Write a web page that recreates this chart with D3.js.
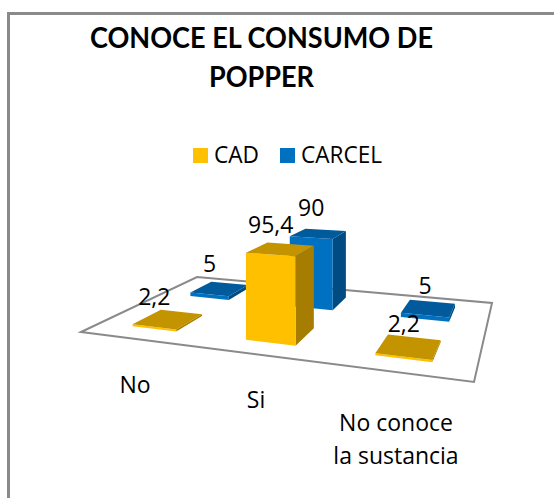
<!DOCTYPE html>
<html><head><meta charset="utf-8">
<script src="https://cdn.jsdelivr.net/npm/d3@7"></script>
<style>html,body{margin:0;padding:0;background:#fff}svg{display:block}text{font-family:"Open Sans",sans-serif;fill:#000}.t{font-family:Lato,sans-serif}</style>
</head><body><svg id="c" width="554" height="498"></svg>
<script>
const titleLines = ["CONOCE EL CONSUMO DE", "POPPER"];
const categories = ["No", "Si", "No conoce la sustancia"];
const seriesNames = ["CAD", "CARCEL"];
const cadValues = [2.2, 95.4, 2.2];
const carcelValues = [5, 90, 5];
const valueLabels = [["2,2", "95,4", "2,2"], ["5", "90", "5"]];
const categoryLines = [["No"], ["Si"], ["No conoce", "la sustancia"]];
const seriesValues = [cadValues, carcelValues];

const front = ["#FFC000", "#0070C0"], top_ = ["#C49400", "#005A9C"], side = ["#A67D00", "#004B82"];
const svg = d3.select("#c");

// frame: the right edge runs off the picture
svg.append("path").attr("d", "M8.5,498V13.5H554").attr("fill", "none").attr("stroke", "#8a8a8a").attr("stroke-width", 3);

// title
const titleW = [343, 105];
svg.append("g").selectAll("text").data(titleLines).join("text").attr("class", "t")
  .attr("x", 261.5).attr("y", (d, i) => 48 + i * 39)
  .attr("text-anchor", "middle").attr("font-size", 28).attr("font-weight", 700)
  .attr("textLength", (d, i) => titleW[i]).attr("lengthAdjust", "spacingAndGlyphs").text(d => d);

// legend
const lx = [193, 280], legW = [45, 81];
const lg = svg.append("g").selectAll("g").data(seriesNames).join("g");
lg.append("rect").attr("x", (d, i) => lx[i]).attr("y", 148).attr("width", 15).attr("height", 15).attr("fill", (d, i) => front[i]);
lg.append("text").attr("x", (d, i) => lx[i] + 21).attr("y", 163).attr("font-size", 23)
  .attr("textLength", (d, i) => legW[i]).attr("lengthAdjust", "spacingAndGlyphs").text(d => d);

// floor homography: unit square (u right, v back) to the screen
const corners = [[81, 332], [474, 382], [492, 303], [197, 277]];
function homography(q) {
  const [[x0, y0], [x1, y1], [x2, y2], [x3, y3]] = q;
  const dx1 = x1 - x2, dx2 = x3 - x2, sx = x0 - x1 + x2 - x3;
  const dy1 = y1 - y2, dy2 = y3 - y2, sy = y0 - y1 + y2 - y3;
  const det = dx1 * dy2 - dx2 * dy1;
  const g = (sx * dy2 - dx2 * sy) / det, h = (dx1 * sy - sx * dy1) / det;
  const a = x1 - x0 + g * x1, b = x3 - x0 + h * x3, d = y1 - y0 + g * y1, e = y3 - y0 + h * y3;
  return (u, v) => { const w = g * u + h * v + 1; return [(a * u + b * v + x0) / w, (d * u + e * v + y0) / w, 1 / w]; };
}
const floor = homography(corners);
const uScale = d3.scaleBand().domain(d3.range(categories.length)).range([0, 1]).paddingInner(0.6).paddingOuter(0.3);
const vScale = d3.scaleBand().domain([0, 1]).range([0, 1]).paddingInner(0.55).paddingOuter(0.27);
const hScale = d3.scaleLinear().domain([0, 100]).range([0, 88]);

svg.append("polygon").attr("points", corners.join(" ")).attr("fill", "#fff").attr("stroke", "#8a8a8a").attr("stroke-width", 2);

function box(ci, si) {
  const val = seriesValues[si][ci];
  const u0 = uScale(ci), u1 = u0 + uScale.bandwidth(), v0 = vScale(si), v1 = v0 + vScale.bandwidth();
  const base = [[u0, v0], [u1, v0], [u1, v1], [u0, v1]].map(p => floor(p[0], p[1]));
  const up = base.map(p => [p[0], p[1] - hScale(val) * p[2]]);
  return { base, up };
}
const pts = a => a.map(p => p.slice(0, 2).join(",")).join(" ");
// back series first so the front series overlaps it
[1, 0].forEach(si => categories.forEach((c, ci) => {
  const { base, up } = box(ci, si);
  const g = svg.append("g");
  g.append("polygon").attr("points", pts([base[1], base[2], up[2], up[1]])).attr("fill", side[si]);
  g.append("polygon").attr("points", pts([base[0], base[1], up[0 + 1], up[0]])).attr("fill", front[si]);
  g.append("polygon").attr("points", pts(up)).attr("fill", top_[si]);
}));
// value labels: centred over the front edge of each bar, with a per-label nudge
const labelGap = [[5, 10, 2], [10, 13, 6]];
[1, 0].forEach(si => categories.forEach((c, ci) => {
  const { up } = box(ci, si);
  const cx = (up[0][0] + up[1][0]) / 2, ty = d3.min(up, p => p[1]);
  svg.append("text").attr("x", cx).attr("y", ty - labelGap[si][ci]).attr("text-anchor", "middle").attr("font-size", 23).text(valueLabels[si][ci]);
}));
// category labels
const catX = [135, 256, 396], catY = [393, 408, 431];
categoryLines.forEach((lines, i) => lines.forEach((t, j) => {
  svg.append("text").attr("x", catX[i]).attr("y", catY[i] + j * 33).attr("text-anchor", "middle").attr("font-size", 23).text(t);
}));
</script></body></html>
